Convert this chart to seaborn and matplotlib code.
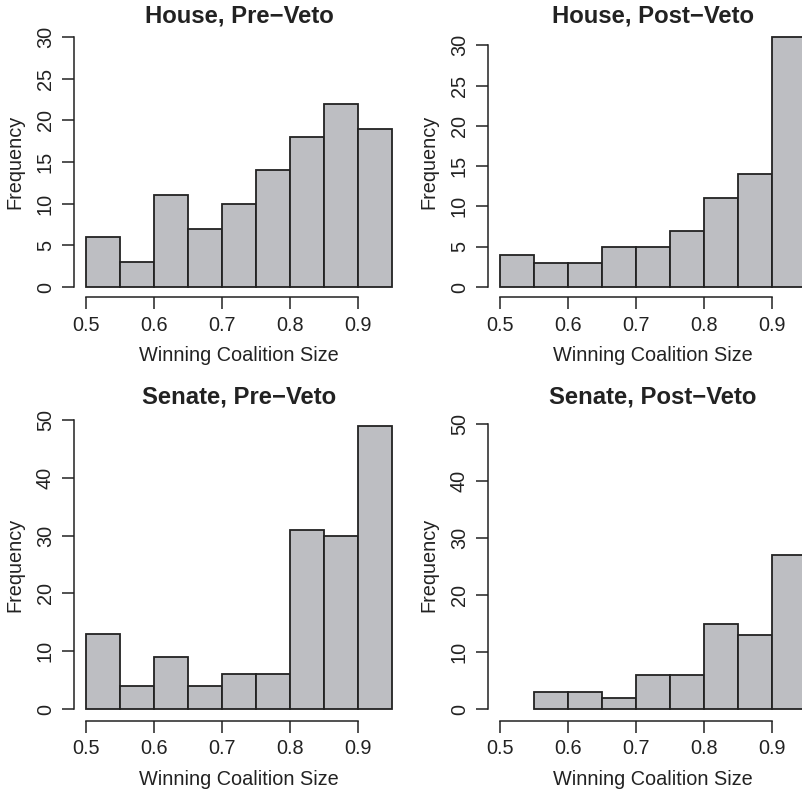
"""Histograms of winning coalition size, pre/post veto, House and Senate."""

import matplotlib
matplotlib.use("Agg")
import matplotlib.pyplot as plt
import numpy as np
import seaborn as sns

# bin edges shared by all four panels
bin_edges = [0.50, 0.55, 0.60, 0.65, 0.70, 0.75, 0.80, 0.85, 0.90, 0.95]

house_pre = [6, 3, 11, 7, 10, 14, 18, 22, 19]
house_post = [4, 3, 3, 5, 5, 7, 11, 14, 31]
senate_pre = [13, 4, 9, 4, 6, 6, 31, 30, 49]
senate_post = [0, 3, 3, 2, 6, 6, 15, 13, 27]

titles = ["House, Pre\u2212Veto", "House, Post\u2212Veto",
          "Senate, Pre\u2212Veto", "Senate, Post\u2212Veto"]
y_ticks = [[0, 5, 10, 15, 20, 25, 30], [0, 5, 10, 15, 20, 25, 30],
           [0, 10, 20, 30, 40, 50], [0, 10, 20, 30, 40, 50]]
y_max = [30, 31, 50, 50.7]
x_ticks = [0.5, 0.6, 0.7, 0.8, 0.9]

sns.set_style("ticks")
plt.rcParams["font.family"] = ["Liberation Sans", "DejaVu Sans"]
ink = "#222222"
plt.rcParams.update({
    "text.color": ink, "axes.labelcolor": ink,
    "xtick.color": ink, "ytick.color": ink, "axes.edgecolor": ink,
})

fig = plt.figure(figsize=(8.02, 7.95), dpi=100)
W, H = 802, 795
# plot regions in pixels: (left, top, right, bottom); right panels run off the page
regions = [(73.8, 27.2, 404.0, 297.0), (487.8, 27.2, 818.0, 297.0),
           (73.8, 408.6, 404.0, 720.6), (487.8, 408.6, 818.0, 720.6)]

counts = [house_pre, house_post, senate_pre, senate_post]
centers = (np.array(bin_edges[:-1]) + np.array(bin_edges[1:])) / 2

for i, (l, t, r, b) in enumerate(regions):
    ax = fig.add_axes([l / W, 1 - b / H, (r - l) / W, (b - t) / H])
    sns.histplot(x=centers, weights=counts[i], bins=bin_edges, ax=ax,
                 color="#bdbec2", edgecolor=ink, linewidth=1.3, alpha=1)
    # empty bins are not drawn at all
    for p in ax.patches:
        if p.get_height() == 0:
            p.set_visible(False)
    ax.set_xlim(0.5 - 0.04 * 0.45, 0.95 + 0.04 * 0.45)
    ax.set_ylim(-0.04 * y_max[i], y_max[i] * 1.04)
    ax.set_xticks(x_ticks)
    ax.set_xticklabels([f"{v:.1f}" for v in x_ticks])
    ax.set_yticks(y_ticks[i])
    ax.spines[["top", "right"]].set_visible(False)
    ax.spines["bottom"].set_bounds(x_ticks[0], x_ticks[-1])
    ax.spines["left"].set_bounds(y_ticks[i][0], y_ticks[i][-1])
    for s in ("left", "bottom"):
        ax.spines[s].set_linewidth(1.1)
    ax.tick_params(length=8.6, width=1.1, labelsize=14.3, pad=5)
    ax.tick_params(axis="y", labelrotation=90)
    for lab in ax.get_yticklabels():
        lab.set_va("center")
    ax.set_xlabel("Winning Coalition Size", fontsize=14.3, labelpad=8)
    ax.set_ylabel("Frequency", fontsize=14.3, labelpad=8)
    ax.set_title(titles[i], fontsize=17.2, fontweight="bold", pad=1)

fig.savefig("out.png", dpi=100)
plt.close(fig)
